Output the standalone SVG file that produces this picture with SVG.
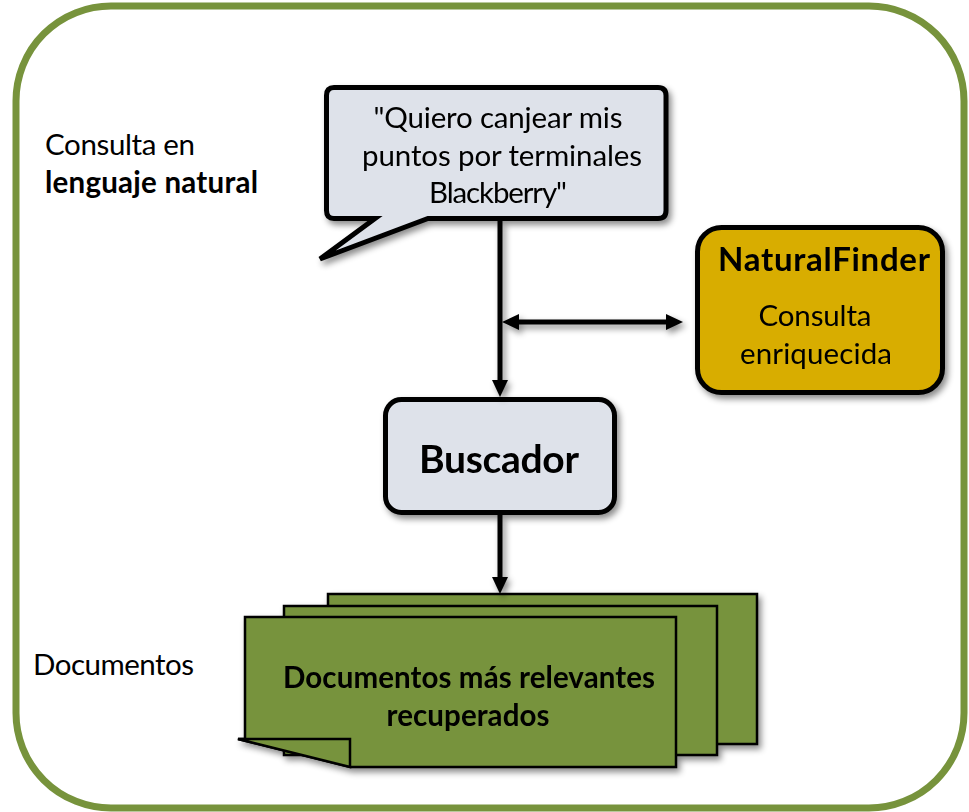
<svg xmlns="http://www.w3.org/2000/svg" width="969" height="812" viewBox="0 0 969 812">
  <style>
    .t { font-family: Lato, "Liberation Sans", sans-serif; fill: #000; }
    .b { font-weight: bold; }
    .box { stroke: #000; stroke-width: 5; }
    .grey { fill: #DEE2EA; }
    .gold { fill: #D8AD00; }
    .doc { fill: #77933C; stroke: #000; stroke-width: 2.5; stroke-linejoin: miter; }
    .conn { stroke: #000; stroke-width: 5; fill: none; }
  </style>
  <defs>
    <filter id="sh" x="-15%" y="-15%" width="140%" height="150%">
      <feDropShadow dx="3" dy="4" stdDeviation="3" flood-color="#000" flood-opacity="0.45"/>
    </filter>
    <marker id="ah" viewBox="0 0 17 16" refX="0" refY="8" markerWidth="17" markerHeight="16" markerUnits="userSpaceOnUse" orient="auto-start-reverse">
      <path d="M0,0 L17,8 L0,16 z" fill="#000"/>
    </marker>
  </defs>

  <rect id="frame" x="16" y="6" width="948" height="802" rx="95" ry="95" fill="#fff" stroke="#77933C" stroke-width="7"/>

  <g id="label-consulta">
    <text class="t" x="45" y="155" font-size="29.5" textLength="150">Consulta en</text>
    <text class="t b" x="45" y="193" font-size="29.5" textLength="213">lenguaje natural</text>
  </g>

  <g id="label-documentos">
    <text class="t" x="33" y="675" font-size="29.5" textLength="161">Documentos</text>
  </g>

  <g id="callout" filter="url(#sh)">
    <path class="box grey" stroke-linejoin="miter" d="M334,87.5 H658 Q666,87.5 666,95.5 V210.5 Q666,218.5 658,218.5 H428 L320,259 L375,218.5 H334 Q326.5,218.5 326.5,210.5 V95.5 Q326.5,87.5 334,87.5 Z"/>
    <text class="t" x="498" y="128" font-size="29.5" text-anchor="middle" textLength="249">"Quiero canjear mis</text>
    <text class="t" x="502" y="166" font-size="29.5" text-anchor="middle" textLength="280">puntos por terminales</text>
    <text class="t" x="498" y="203" font-size="29.5" text-anchor="middle" textLength="138">Blackberry"</text>
  </g>

  <g id="naturalfinder" filter="url(#sh)">
    <rect class="box gold" x="697.5" y="227.5" width="245" height="165" rx="24" ry="24"/>
    <text class="t b" x="824" y="271" font-size="33" text-anchor="middle" textLength="212">NaturalFinder</text>
    <text class="t" x="815" y="326" font-size="29.5" text-anchor="middle" textLength="113">Consulta</text>
    <text class="t" x="816" y="364" font-size="29.5" text-anchor="middle" textLength="152">enriquecida</text>
  </g>

  <g id="buscador" filter="url(#sh)">
    <rect class="box grey" x="385.5" y="399.5" width="229" height="113" rx="16" ry="16"/>
    <text class="t b" x="499" y="473" font-size="39" text-anchor="middle" textLength="160">Buscador</text>
  </g>

  <g id="documentos" filter="url(#sh)">
    <rect class="doc" x="328" y="594" width="429" height="150"/>
    <rect class="doc" x="284" y="606" width="433" height="149"/>
    <path class="doc" d="M245,617 H676 V767 H350 L238,739 H245 Z"/>
    <path class="doc" d="M238,739 H350 V767 Z"/>
    <text class="t b" x="469" y="688" font-size="29.5" text-anchor="middle" textLength="372">Documentos más relevantes</text>
    <text class="t b" x="468" y="726" font-size="29.5" text-anchor="middle" textLength="163">recuperados</text>
  </g>

  <g id="connectors" filter="url(#sh)">
    <line class="conn" x1="500" y1="221" x2="500" y2="380" marker-end="url(#ah)"/>
    <line class="conn" x1="519" y1="322" x2="666" y2="322" marker-start="url(#ah)" marker-end="url(#ah)"/>
    <line class="conn" x1="500" y1="515" x2="500" y2="577" marker-end="url(#ah)"/>
  </g>
</svg>
